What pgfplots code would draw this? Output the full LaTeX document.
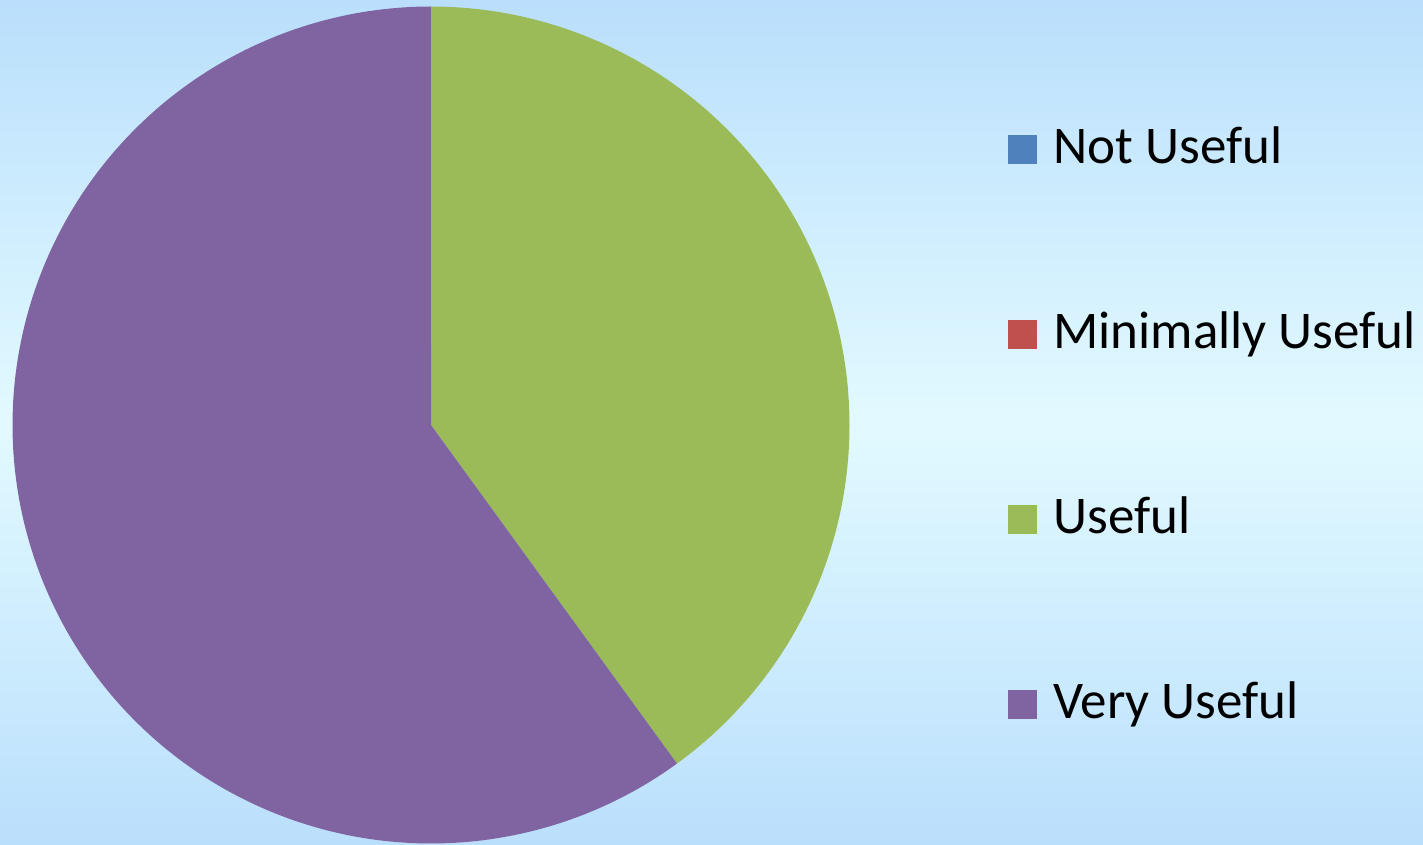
\documentclass[border=0pt]{standalone}
\usepackage{fontspec}
\setmainfont{Carlito}
\usepackage{pgfplots}
\usepackage{pgfplotstable}
\pgfplotsset{compat=1.18}

\definecolor{cNot}{HTML}{4F81BD}
\definecolor{cMin}{HTML}{C0504D}
\definecolor{cUse}{HTML}{9BBB59}
\definecolor{cVery}{HTML}{8064A2}
\definecolor{bgEdge}{RGB}{186,223,252}
\definecolor{bgMid}{RGB}{226,250,255}

\pgfplotstableread[col sep=comma]{
label,value
Not Useful,0
Minimally Useful,0
Useful,40
Very Useful,60
}\usefulness

\begin{document}
\begin{tikzpicture}
  \pgfplotstablegetelem{2}{value}\of\usefulness \let\vUse\pgfplotsretval
  \pgfplotstablegetelem{3}{value}\of\usefulness \let\vVery\pgfplotsretval
  \pgfmathsetmacro{\total}{\vUse+\vVery}
  \pgfmathsetmacro{\aUse}{90-(\vUse/\total)*360}
  \pgfmathsetmacro{\aVery}{\aUse-(\vVery/\total)*360}
  \def\cx{431}
  \def\cy{420}
  \def\rr{418.5}
  \begin{axis}[
      x=0.5pt, y=0.5pt,
      xmin=0, xmax=1423, ymin=0, ymax=845,
      axis line style={draw=none},
      ticks=none,
      axis background/.style={top color=bgEdge, bottom color=bgEdge, middle color=bgMid},
      legend image code/.code={\fill[#1] (0pt,-7.5pt) rectangle (14.5pt,7pt);},
      legend cell align=left,
      legend style={draw=none, fill=none, at={(axis cs:1008,722)}, anchor=north west,
        inner sep=0pt, row sep=66.5pt, column sep=8pt,
        font=\fontsize{26.5}{31}\selectfont,
        nodes={inner sep=0pt, text height=20pt, text depth=6pt}},
    ]
    \addlegendimage{fill=cNot, draw=none}
    \addlegendentry{Not Useful}
    \addlegendimage{fill=cMin, draw=none}
    \addlegendentry{Minimally Useful}
    \addplot[fill=cUse, draw=none, domain=\aUse:90, samples=180]
      ({\cx+\rr*cos(x)}, {\cy+\rr*sin(x)}) -- (axis cs:\cx,\cy) -- cycle;
    \addlegendentry{Useful}
    \addplot[fill=cVery, draw=none, domain=\aVery:\aUse, samples=240]
      ({\cx+\rr*cos(x)}, {\cy+\rr*sin(x)}) -- (axis cs:\cx,\cy) -- cycle;
    \addlegendentry{Very Useful}
  \end{axis}
\end{tikzpicture}
\end{document}
